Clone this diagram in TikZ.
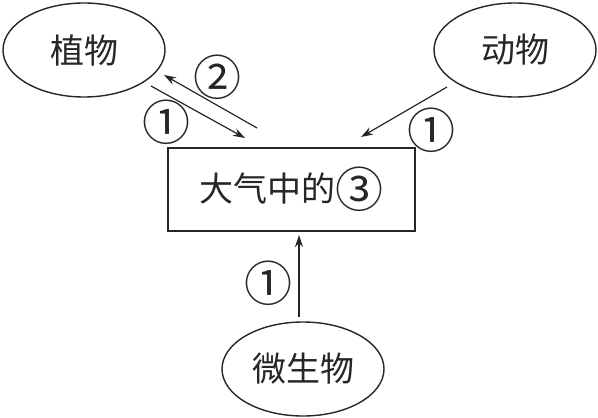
\documentclass[tikz,border=0pt]{standalone}
\usepackage{fontspec}
\newfontfamily\cjk{Noto Sans CJK SC}
\usetikzlibrary{arrows.meta,shapes.geometric}
\newcommand{\mycirc}[1]{{\fontsize{24}{24}\selectfont\raisebox{-0.12em}{#1}}}
\begin{document}
\begin{tikzpicture}[x=0.5pt,y=-0.5pt,
  font=\cjk\fontsize{17}{20}\selectfont,
  every node/.style={text=black!85},
  oval/.style={draw=black!85, ellipse, minimum width=81pt, minimum height=47pt, inner sep=0pt, line width=0.7pt},
  boxnode/.style={draw=black!85, rectangle, minimum width=123.5pt, minimum height=41.5pt, line width=0.7pt},
  flow/.style={draw=black!85, line width=0.6pt, -{Stealth[length=6pt,width=4pt]}},
  num/.style={inner sep=0pt, font=\cjk\fontsize{24}{24}\selectfont}]
\useasboundingbox (0,0) rectangle (598,417);
\node[oval] (plant) at (84,50) {植物};
\node[oval] (animal) at (515,50) {动物};
\node[oval] (micro) at (303,369) {微生物};
\node[boxnode] (air) at (291.5,189.5) {大气中的\mycirc{③}};
\coordinate (p1s) at (151,86);  \coordinate (p1e) at (245,138);
\coordinate (p2s) at (257,128); \coordinate (p2e) at (164,75);
\coordinate (as) at (447,87);   \coordinate (ae) at (361,137);
\coordinate (ms) at (299,317);  \coordinate (me) at (299,235);
\draw[flow] (p1s) -- (p1e);
\draw[flow] (p2s) -- (p2e);
\draw[flow] (as) -- (ae);
\draw[flow] (ms) -- (me);
\node[num] (l1) at (166,122) {①};
\node[num] (l2) at (217,77) {②};
\node[num] (l3) at (431,130) {①};
\node[num] (l4) at (268,283) {①};
\end{tikzpicture}
\end{document}
